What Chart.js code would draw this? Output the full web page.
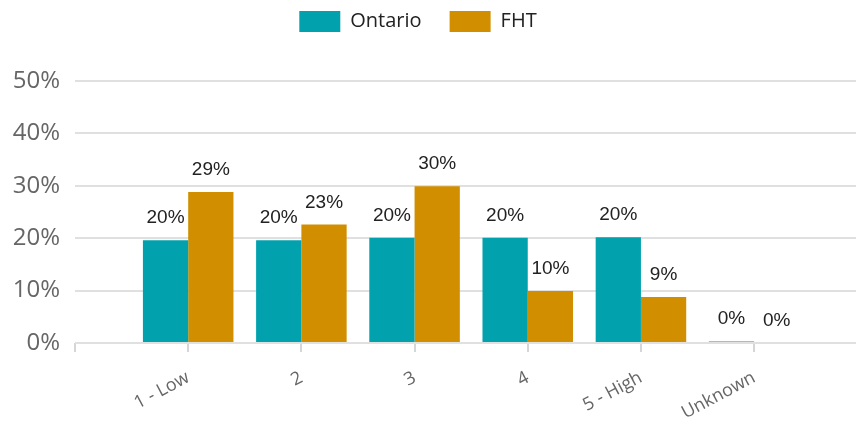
<!DOCTYPE html>
<html>
<head>
<meta charset="utf-8">
<script src="https://cdn.jsdelivr.net/npm/chart.js@4.4.0/dist/chart.umd.min.js"></script>
<style>
  html, body { margin: 0; padding: 0; background: #fff; }
  #wrap { width: 856px; height: 424px; position: relative; }
</style>
</head>
<body>
<div id="wrap"><canvas id="riskChart"></canvas></div>
<script>
const categories = ['1 - Low', '2', '3', '4', '5 - High', 'Unknown'];
const ontarioValues = [19.6, 19.6, 20.1, 20.1, 20.2, 0.3];
const fhtValues = [28.8, 22.6, 29.9, 9.9, 8.8, 0];
const yTicks = [0, 10, 20, 30, 40, 50];

const xMin = -1.0;
const xMax = 5.9;

// value labels above each bar
const barLabels = {
    id: 'barLabels',
    afterDatasetsDraw(chart) {
        const ctx = chart.ctx;
        ctx.save();
        ctx.font = '19px "Liberation Sans", Arial, sans-serif';
        ctx.fillStyle = '#222';
        ctx.textAlign = 'center';
        ctx.textBaseline = 'alphabetic';
        chart.data.datasets.forEach((ds, i) => {
            chart.getDatasetMeta(i).data.forEach((bar, j) => {
                ctx.fillText(Math.round(ds.data[j].y) + '%', bar.x, bar.y - 17);
            });
        });
        ctx.restore();
    }
};

// extra room under the legend, legend nudged a bit left
const legendSpace = {
    id: 'legendSpace',
    beforeInit(chart) {
        const legend = chart.legend;
        const fit = legend.fit;
        legend.fit = function () {
            fit.call(legend);
            this.height += 39;
        };
        const draw = legend.draw;
        legend.draw = function () {
            chart.ctx.save();
            chart.ctx.translate(-10, 0);
            draw.call(legend);
            chart.ctx.restore();
        };
    }
};

document.addEventListener('DOMContentLoaded', () => {
    const chartCtx = document.getElementById('riskChart');

    new Chart(chartCtx.getContext('2d'), {
        type: 'bar',
        data: {
            datasets: [
                {
                    label: 'Ontario',
                    data: categories.map((c, i) => ({ x: i, y: ontarioValues[i] })),
                    backgroundColor: '#01A2AE',
                    borderWidth: 0
                },
                {
                    label: 'FHT',
                    data: categories.map((c, i) => ({ x: i, y: fhtValues[i] })),
                    backgroundColor: '#D18F00',
                    borderWidth: 0
                }
            ]
        },
        options: {
            responsive: true,
            maintainAspectRatio: false,
            animation: false,
            categoryPercentage: 0.8,
            barPercentage: 1,
            layout: {
                padding: { top: -17, left: 0, right: 0, bottom: 0 }
            },
            plugins: {
                legend: {
                    position: 'top',
                    labels: {
                        boxWidth: 41,
                        boxHeight: 21,
                        padding: 28,
                        color: '#222',
                        font: { family: '"Open Sans", sans-serif', size: 20 }
                    }
                },
                tooltip: { enabled: false }
            },
            scales: {
                x: {
                    type: 'linear',
                    offset: false,
                    min: xMin,
                    max: xMax,
                    afterBuildTicks: scale => {
                        scale.ticks = [xMin].concat(categories.map((c, i) => i)).map(v => ({ value: v }));
                    },
                    afterFit: scale => {
                        scale.height = 81;
                        scale.paddingLeft = 0;
                        scale.paddingRight = 0;
                    },
                    border: { display: false },
                    grid: {
                        offset: false,
                        drawOnChartArea: false,
                        drawTicks: true,
                        tickLength: 9,
                        color: '#d6d6d6',
                        tickColor: '#d6d6d6',
                        lineWidth: 2
                    },
                    ticks: {
                        autoSkip: false,
                        minRotation: 28,
                        maxRotation: 28,
                        padding: 15,
                        color: '#666',
                        font: { family: '"Open Sans", sans-serif', size: 18 },
                        callback: value => categories[value] ?? ''
                    }
                },
                y: {
                    min: 0,
                    max: 50,
                    afterBuildTicks: scale => {
                        scale.ticks = yTicks.map(v => ({ value: v }));
                    },
                    afterFit: scale => { scale.width = 75; },
                    border: { display: false },
                    grid: {
                        color: '#e0e0e0',
                        lineWidth: 2,
                        drawTicks: false
                    },
                    ticks: {
                        padding: 15,
                        color: '#666',
                        font: { family: '"Open Sans", sans-serif', size: 24 },
                        callback: value => value + '%'
                    }
                }
            }
        },
        plugins: [barLabels, legendSpace]
    });
});
</script>
</body>
</html>
